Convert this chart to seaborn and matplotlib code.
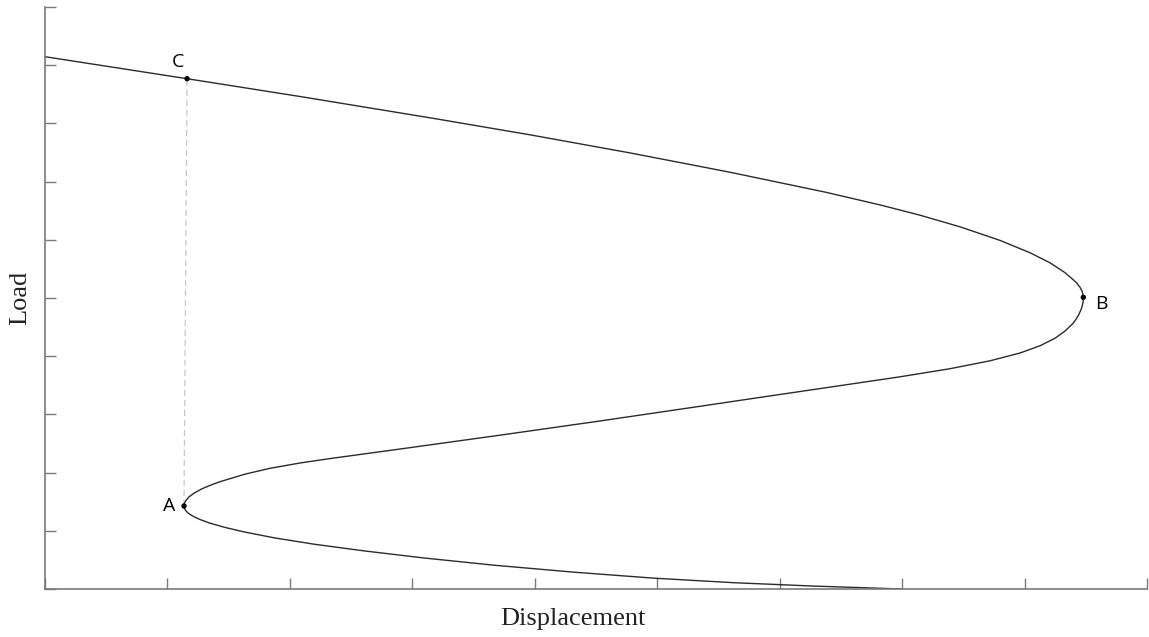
import matplotlib
matplotlib.use("Agg")
import matplotlib.pyplot as plt
import seaborn as sns
import pandas as pd

# Curve, in path order:
# top-left start -> C -> B -> A -> end on the displacement axis
displacement = [0.000, 1.160, 2.083, 3.185, 3.961, 4.778, 5.594, 6.370, 6.819,
                7.146, 7.473, 7.799, 8.044, 8.208, 8.330, 8.396, 8.428, 8.453,
                8.470, 8.477, 8.480,
                8.479, 8.476, 8.468, 8.455, 8.440, 8.420, 8.396, 8.330, 8.249,
                8.126, 7.963, 7.718, 7.391, 6.983, 6.574, 5.839, 5.349, 4.533,
                3.716, 2.899, 2.328, 2.083, 1.838, 1.633, 1.429, 1.356, 1.282,
                1.217, 1.176, 1.152, 1.139, 1.135,
                1.143, 1.160, 1.184, 1.217, 1.266, 1.339, 1.462, 1.625, 1.870,
                2.197, 2.605, 3.095, 3.667, 4.320, 4.974, 5.627, 6.280, 6.999]
load = [9.146, 8.768, 8.462, 8.082, 7.804, 7.493, 7.161, 6.820, 6.600,
        6.423, 6.223, 5.990, 5.778, 5.605, 5.436, 5.316, 5.253, 5.184,
        5.115, 5.064, 5.012,
        4.960, 4.909, 4.840, 4.771, 4.703, 4.634, 4.564, 4.431, 4.309,
        4.179, 4.055, 3.921, 3.785, 3.646, 3.519, 3.292, 3.139, 2.887,
        2.643, 2.405, 2.241, 2.165, 2.074, 1.973, 1.844, 1.787, 1.722,
        1.646, 1.582, 1.524, 1.476, 1.426,
        1.366, 1.323, 1.282, 1.241, 1.194, 1.137, 1.062, 0.981, 0.880,
        0.770, 0.655, 0.533, 0.409, 0.289, 0.186, 0.108, 0.050, 0.000]

point_labels = ["A", "B", "C"]
point_x = [1.135, 8.480, 1.160]
point_y = [1.426, 5.012, 8.768]

x_ticks = list(range(0, 10))
y_ticks = list(range(0, 11))

sns.set_theme(style="white")
plt.rcParams["font.family"] = ["Open Sans", "DejaVu Sans"]

fig = plt.figure(figsize=(11.49, 6.37), dpi=100)
ax = fig.add_axes([45 / 1149, 48 / 637, 1102 / 1149, 582 / 637])

curve = pd.DataFrame({"Displacement": displacement, "Load": load})
sns.lineplot(data=curve, x="Displacement", y="Load", sort=False, estimator=None,
             color="#2b2b2b", linewidth=1.0, ax=ax)

# dashed guide from A up to C
ax.plot([point_x[0], point_x[2]], [point_y[0], point_y[2]],
        linestyle=(0, (5, 3)), color="#c8c8c8", linewidth=0.9, zorder=1)

pts = pd.DataFrame({"x": point_x, "y": point_y, "label": point_labels})
sns.scatterplot(data=pts, x="x", y="y", color="black", s=15, edgecolor="none",
                ax=ax, zorder=5)

offsets = {"A": (-6, 0, "right", "center"),
           "B": (8.5, -5, "left", "center"),
           "C": (-6.5, 12, "center", "center")}
for lab, px, py in zip(point_labels, point_x, point_y):
    dx, dy, ha, va = offsets[lab]
    ax.annotate(lab, (px, py), xytext=(dx, dy), textcoords="offset points",
                ha=ha, va=va, fontsize=14, color="black",
                family=["Open Sans", "DejaVu Sans"])

ax.set_xlim(0, 9)
ax.set_ylim(0, 10)
ax.set_xticks(x_ticks)
ax.set_yticks(y_ticks)
ax.set_xticklabels([])
ax.set_yticklabels([])
ax.tick_params(axis="both", direction="in", length=8, width=1.0,
               color="#7a7a7a", bottom=True, left=True)
for side in ["top", "right"]:
    ax.spines[side].set_visible(False)
for side in ["left", "bottom"]:
    ax.spines[side].set_color("#7a7a7a")
    ax.spines[side].set_linewidth(1.2)

serif = ["Liberation Serif", "DejaVu Serif"]
ax.set_xlabel("Displacement", fontsize=19, family=serif, color="#222222")
ax.set_ylabel("Load", fontsize=19, family=serif, color="#222222")
ax.xaxis.set_label_coords((573 - 45) / 1102, -19 / 582)
ax.yaxis.set_label_coords(-14 / 1102, 0.5)

fig.savefig("out.png", dpi=100)
